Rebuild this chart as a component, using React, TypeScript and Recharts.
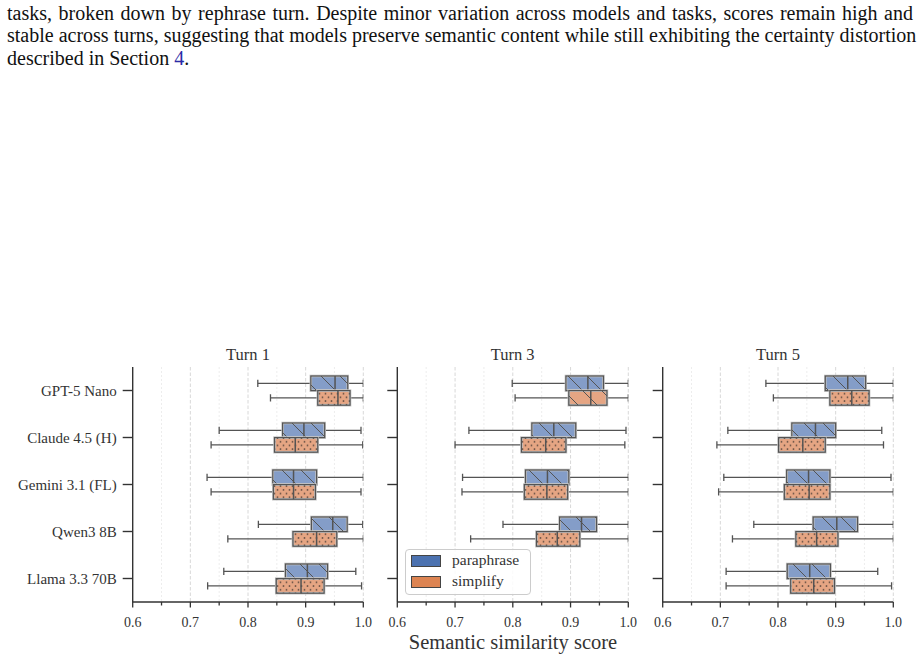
import React from 'react';
import { ComposedChart, Bar, XAxis, YAxis, CartesianGrid } from 'recharts';

// ---------- data ----------
const models = ['GPT-5 Nano', 'Claude 4.5 (H)', 'Gemini 3.1 (FL)', 'Qwen3 8B', 'Llama 3.3 70B'];
const turnTitles = ['Turn 1', 'Turn 3', 'Turn 5'];
const seriesNames = ['paraphrase', 'simplify'];
const xTicks = [0.6, 0.65, 0.7, 0.75, 0.8, 0.85, 0.9, 0.95, 1.0];
const xMajorTicks = [0.6, 0.7, 0.8, 0.9, 1.0];
const xMinorGrid = [0.65, 0.75, 0.85, 0.95];
const xMajorGrid = [0.7, 0.8, 0.9, 1.0];

// each entry: [whiskerLow, q1, median, q3, whiskerHigh]
const turn1Paraphrase = [
  [0.817, 0.909, 0.951, 0.973, 1.0],
  [0.750, 0.860, 0.897, 0.933, 0.996],
  [0.729, 0.843, 0.879, 0.919, 1.0],
  [0.818, 0.910, 0.947, 0.972, 0.999],
  [0.758, 0.865, 0.903, 0.938, 0.987],
];
const turn1Simplify = [
  [0.839, 0.921, 0.956, 0.977, 1.0],
  [0.736, 0.846, 0.882, 0.921, 0.999],
  [0.736, 0.844, 0.879, 0.917, 0.996],
  [0.765, 0.878, 0.919, 0.954, 1.0],
  [0.730, 0.849, 0.892, 0.932, 0.997],
];
const turn3Paraphrase = [
  [0.799, 0.892, 0.930, 0.957, 1.0],
  [0.724, 0.833, 0.871, 0.909, 0.996],
  [0.713, 0.822, 0.860, 0.897, 1.0],
  [0.783, 0.881, 0.919, 0.945, 1.0],
  null,
];
const turn3Simplify = [
  [0.804, 0.897, 0.935, 0.963, 1.0],
  [0.700, 0.815, 0.857, 0.892, 0.994],
  [0.712, 0.820, 0.859, 0.895, 1.0],
  [0.727, 0.841, 0.877, 0.916, 1.0],
  null,
];
const turn5Paraphrase = [
  [0.779, 0.882, 0.921, 0.952, 1.0],
  [0.713, 0.824, 0.865, 0.900, 0.980],
  [0.706, 0.815, 0.853, 0.890, 0.996],
  [0.758, 0.861, 0.902, 0.938, 1.0],
  [0.710, 0.816, 0.855, 0.891, 0.973],
];
const turn5Simplify = [
  [0.792, 0.890, 0.928, 0.958, 1.0],
  [0.694, 0.801, 0.843, 0.882, 0.983],
  [0.697, 0.811, 0.854, 0.890, 1.0],
  [0.721, 0.831, 0.867, 0.904, 1.0],
  [0.710, 0.822, 0.862, 0.898, 0.997],
];

// ---------- styles ----------
const FONT = '"Liberation Serif", "Times New Roman", serif';
const TEXT = '#333333';
const EDGE = '#545454';
const BOX_FILL = { paraphrase: '#849dc8', simplify: '#e5a583' };
const LEGEND_FILL = { paraphrase: '#4C72B0', simplify: '#DD8452' };
const HATCH = { paraphrase: 'hatch-diag', simplify: 'hatch-dots' };
const hatchOverride: Record<string, string> = { 'Turn 3|GPT-5 Nano|simplify': 'hatch-diag' };

function buildRows(para: (number[] | null)[], simp: (number[] | null)[]) {
  return models.map((m, i) => ({
    model: m,
    paraphrase: para[i] ? [para[i]![0], para[i]![4]] : null,
    paraphraseStats: para[i],
    simplify: simp[i] ? [simp[i]![0], simp[i]![4]] : null,
    simplifyStats: simp[i],
  }));
}

const turnData = [
  buildRows(turn1Paraphrase, turn1Simplify),
  buildRows(turn3Paraphrase, turn3Simplify),
  buildRows(turn5Paraphrase, turn5Simplify),
];

function makeBoxShape(series: 'paraphrase' | 'simplify', turn: string) {
  return (props: any) => {
    const { x, y, width, height, payload } = props;
    const stats = payload && payload[series + 'Stats'];
    if (!stats) return <g />;
    const [lo, q1, med, q3, hi] = stats;
    const x0 = Math.min(x, x + width);
    const w = Math.abs(width);
    const ppu = w / (hi - lo);
    const px = (v: number) => x0 + (v - lo) * ppu;
    const cy = y + height / 2;
    const cap = height / 2;
    const pat = hatchOverride[`${turn}|${payload.model}|${series}`] || HATCH[series];
    return (
      <g>
        <line x1={px(lo)} x2={px(q1)} y1={cy} y2={cy} stroke={EDGE} strokeWidth={1.3} />
        <line x1={px(q3)} x2={px(hi)} y1={cy} y2={cy} stroke={EDGE} strokeWidth={1.3} />
        <line x1={px(lo)} x2={px(lo)} y1={cy - cap / 2} y2={cy + cap / 2} stroke={EDGE} strokeWidth={1.3} />
        <line x1={px(hi)} x2={px(hi)} y1={cy - cap / 2} y2={cy + cap / 2} stroke={EDGE} strokeWidth={1.3} />
        <rect x={px(q1)} y={y} width={px(q3) - px(q1)} height={height} fill={BOX_FILL[series]} stroke="#c4c4c4" strokeWidth={2.6} />
        <rect x={px(q1)} y={y} width={px(q3) - px(q1)} height={height} fill={`url(#${pat})`} stroke={EDGE} strokeWidth={1.2} />
        <line x1={px(med)} x2={px(med)} y1={y} y2={y + height} stroke={EDGE} strokeWidth={1.5} />
      </g>
    );
  };
}

const XTick = (props: any) => {
  const { x, y, payload } = props;
  const v = payload.value;
  const major = xMajorTicks.some((t) => Math.abs(t - v) < 1e-6);
  return (
    <g>
      <line x1={x} x2={x} y1={y} y2={y + (major ? 5.5 : 3.5)} stroke={TEXT} strokeWidth={1.3} />
      {major && (
        <text x={x} y={y + 24.7} textAnchor="middle" fontSize={14} fontFamily={FONT} fill={TEXT}>
          {v.toFixed(1)}
        </text>
      )}
    </g>
  );
};

const EmptyTick = () => <g />;

const panels = [
  { left: 0, width: 380, yAxisWidth: 132.7, right: 16.7, showLabels: true, titleLeft: 132.7 },
  { left: 380, width: 270, yAxisWidth: 17.3, right: 21.7, showLabels: false, titleLeft: 397.3 },
  { left: 645, width: 275, yAxisWidth: 17.7, right: 26.7, showLabels: false, titleLeft: 662.7 },
];
const PANEL_TOP = 340;
const PANEL_H = 300;
const PLOT_W = 230.6;

function Panel({ idx }: { idx: number }) {
  const p = panels[idx];
  const turn = turnTitles[idx];
  return (
    <div style={{ position: 'absolute', left: p.left, top: PANEL_TOP, width: p.width, height: PANEL_H }}>
      <ComposedChart
        width={p.width}
        height={PANEL_H}
        data={turnData[idx]}
        layout="vertical"
        margin={{ top: 27, right: p.right, bottom: 0, left: 0 }}
        barSize={14.6}
        barGap={0}
      >
        <CartesianGrid horizontal={false} verticalValues={xMinorGrid} stroke="#ebebeb" strokeDasharray="2 2" strokeWidth={0.9} />
        <CartesianGrid horizontal={false} verticalValues={xMajorGrid} stroke="#d4d4d4" strokeDasharray="3.5 2" strokeWidth={0.9} />
        <XAxis
          type="number"
          domain={[0.6, 1.0]}
          ticks={xTicks}
          interval={0}
          tickSize={0}
          tickMargin={0}
          tickLine={false}
          axisLine={{ stroke: TEXT, strokeWidth: 1.4 }}
          tick={<XTick />}
          height={38}
          allowDataOverflow
        />
        <YAxis
          type="category"
          dataKey="model"
          width={p.yAxisWidth}
          interval={0}
          tickSize={10}
          tickMargin={6}
          axisLine={{ stroke: TEXT, strokeWidth: 1.4 }}
          tickLine={{ stroke: TEXT, strokeWidth: 1.4 }}
          tick={p.showLabels ? { fill: TEXT, fontSize: 15, fontFamily: FONT } : <EmptyTick />}
        />
        {seriesNames.map((s) => (
          <Bar
            key={s}
            dataKey={s}
            name={s}
            fill={BOX_FILL[s as 'paraphrase' | 'simplify']}
            isAnimationActive={false}
            shape={makeBoxShape(s as 'paraphrase' | 'simplify', turn)}
          />
        ))}
      </ComposedChart>
      <div
        style={{
          position: 'absolute',
          left: p.titleLeft - p.left,
          top: 7.2,
          width: PLOT_W,
          textAlign: 'center',
          fontFamily: FONT,
          fontSize: 16.5,
          lineHeight: '16.5px',
          color: TEXT,
          whiteSpace: 'nowrap',
        }}
      >
        {turn}
      </div>
    </div>
  );
}

function LegendBox() {
  return (
    <div
      style={{
        position: 'absolute',
        left: 405,
        top: 549.3,
        width: 123.5,
        height: 43.5,
        border: '1px solid #cccccc',
        borderRadius: 4,
        background: 'rgba(255,255,255,0.85)',
        fontFamily: FONT,
        fontSize: 15.5,
        color: TEXT,
      }}
    >
      {seriesNames.map((s, i) => (
        <div key={s} style={{ position: 'absolute', left: 0, top: 4.7 + i * 21, height: 13, width: 123 }}>
          <div
            style={{
              position: 'absolute',
              left: 5,
              top: 0.5,
              width: 28,
              height: 9.5,
              background: LEGEND_FILL[s as 'paraphrase' | 'simplify'],
              border: '1px solid #444',
            }}
          />
          <div style={{ position: 'absolute', left: 46, top: -3, lineHeight: '15.5px', whiteSpace: 'nowrap' }}>{s}</div>
        </div>
      ))}
    </div>
  );
}

const paraLines = [
  'tasks, broken down by rephrase turn. Despite minor variation across models and tasks, scores remain high and',
  'stable across turns, suggesting that models preserve semantic content while still exhibiting the certainty distortion',
];

export default function App() {
  return (
    <div style={{ position: 'absolute', left: 0, top: 0, width: 920, height: 659, background: '#fff', overflow: 'hidden' }}>
      <svg width={0} height={0} style={{ position: 'absolute' }}>
        <defs>
          <pattern id="hatch-diag" patternUnits="userSpaceOnUse" width={19} height={19}>
            <path d="M0,0 L19,19 M-4,15 L4,23 M15,-4 L23,4" stroke={EDGE} strokeWidth={1} />
          </pattern>
          <pattern id="hatch-dots" patternUnits="userSpaceOnUse" width={6} height={7.4}>
            <circle cx={1.5} cy={1.8} r={0.95} fill="#6b5346" />
            <circle cx={4.5} cy={5.5} r={0.95} fill="#6b5346" />
          </pattern>
        </defs>
      </svg>

      <div style={{ position: 'absolute', left: 7, top: 1.6, width: 906, fontFamily: FONT, fontSize: 20, lineHeight: '22.5px', color: '#111' }}>
        {paraLines.map((l, i) => (
          <div key={i} style={{ textAlign: 'justify', textAlignLast: 'justify', whiteSpace: 'nowrap' as any }}>
            {l}
          </div>
        ))}
        <div>
          described in Section <span style={{ color: '#2b2ba6' }}>4</span>.
        </div>
      </div>

      {panels.map((_, i) => (
        <Panel key={i} idx={i} />
      ))}

      <LegendBox />

      <div
        style={{
          position: 'absolute',
          left: 313,
          top: 631.6,
          width: 400,
          textAlign: 'center',
          fontFamily: FONT,
          fontSize: 20.5,
          lineHeight: '20.5px',
          color: TEXT,
          whiteSpace: 'nowrap',
        }}
      >
        Semantic similarity score
      </div>
    </div>
  );
}
